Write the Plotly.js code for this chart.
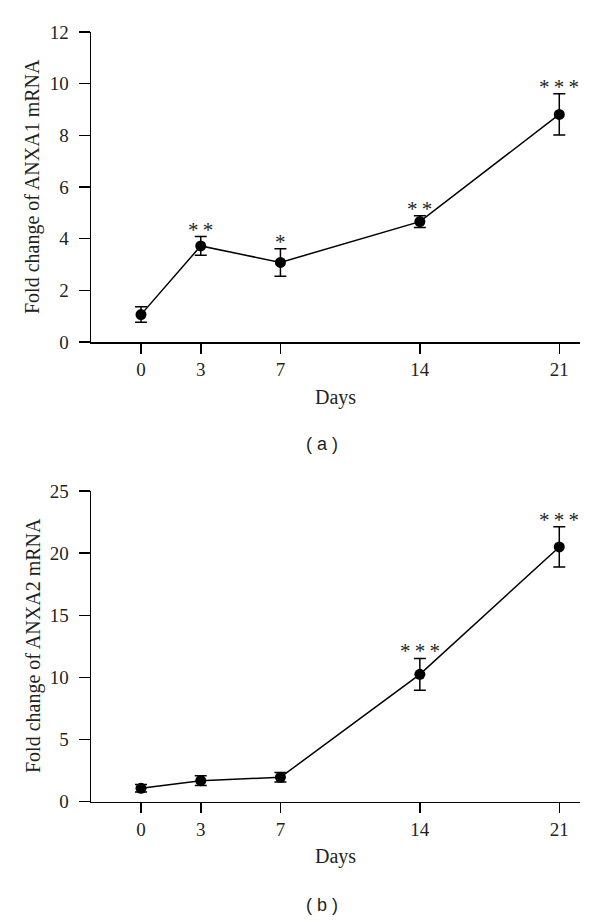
<!DOCTYPE html>
<html>
<head>
<meta charset="utf-8">
<script src="https://cdn.plot.ly/plotly-3.0.1.min.js"></script>
<style>html,body{margin:0;padding:0;background:#fff;}#chart{width:600px;height:922px;}</style>
</head>
<body>
<div id="chart"></div>
<script>
// ---- data ----
var days = [0, 3, 7, 14, 21];
var dayLabels = ["0", "3", "7", "14", "21"];

var anxa1Mean = [1.06, 3.72, 3.08, 4.66, 8.81];
var anxa1Err  = [0.30, 0.36, 0.53, 0.23, 0.80];
var anxa1Sig  = ["", "*\u2009*", "*", "*\u2009*", "*\u2009*\u2009*"];

var anxa2Mean = [1.08, 1.69, 1.96, 10.25, 20.5];
var anxa2Err  = [0.30, 0.39, 0.38, 1.28, 1.62];
var anxa2Sig  = ["", "", "", "*\u2009*\u2009*", "*\u2009*\u2009*"];

var panelTitles = ["Fold change of ANXA1 mRNA", "Fold change of ANXA2 mRNA"];
var panelLabels = ["( a )", "( b )"];
var xTitle = "Days";

// ---- styling ----
var ink = "#231f20";
var serif = "Liberation Serif, Times New Roman, serif";
var sans = "Liberation Sans, Arial, sans-serif";

function trace(mean, err, xa, ya) {
  return {
    x: days, y: mean, xaxis: xa, yaxis: ya,
    type: "scatter", mode: "lines+markers",
    line: {color: "#000", width: 1.5},
    marker: {color: "#000", size: 11},
    error_y: {type: "data", array: err, visible: true, color: "#000", thickness: 1.5, width: 6},
    hoverinfo: "skip", showlegend: false
  };
}

var data = [
  trace(anxa1Mean, anxa1Err, "x", "y"),
  trace(anxa2Mean, anxa2Err, "x2", "y2")
];

function xax(anchor) {
  return {
    anchor: anchor, domain: [91/600, 580/600],
    range: [-2.51, 22.04], tickmode: "array", tickvals: days, ticktext: dayLabels,
    showline: true, linecolor: "#000", linewidth: 1.5,
    ticks: "outside", ticklen: 10, tickwidth: 1.5, tickcolor: "#000",
    showgrid: false, zeroline: false,
    tickfont: {family: serif, size: 19, color: ink},
    title: {text: xTitle, font: {family: serif, size: 20, color: ink}, standoff: 10},
    fixedrange: true
  };
}
function yax(anchor, domain, range, dtick) {
  return {
    anchor: anchor, domain: domain, range: range, dtick: dtick,
    showline: true, linecolor: "#000", linewidth: 1.5,
    ticks: "outside", ticklen: 11, tickwidth: 1.5, tickcolor: "#000",
    ticklabelstandoff: 6,
    showgrid: false, zeroline: false,
    tickfont: {family: serif, size: 19, color: ink},
    fixedrange: true
  };
}

var annotations = [];
function addSig(mean, err, sig, xr, yr) {
  for (var i = 0; i < days.length; i++) {
    if (!sig[i]) continue;
    annotations.push({
      x: days[i], y: mean[i] + err[i], xref: xr, yref: yr,
      text: sig[i], showarrow: false, xanchor: "center", yanchor: "bottom", yshift: -7,
      font: {family: serif, size: 21, color: ink}
    });
  }
}
addSig(anxa1Mean, anxa1Err, anxa1Sig, "x", "y");
addSig(anxa2Mean, anxa2Err, anxa2Sig, "x2", "y2");

// y-axis titles (rotated) and panel labels
annotations.push({xref: "paper", yref: "paper", x: 33/600, y: 1 - 187/922, text: panelTitles[0],
  textangle: -90, xanchor: "center", yanchor: "middle", showarrow: false,
  font: {family: serif, size: 20, color: ink}});
annotations.push({xref: "paper", yref: "paper", x: 33/600, y: 1 - 646/922, text: panelTitles[1],
  textangle: -90, xanchor: "center", yanchor: "middle", showarrow: false,
  font: {family: serif, size: 20, color: ink}});
annotations.push({xref: "paper", yref: "paper", x: 322/600, y: 1 - 444/922, text: panelLabels[0],
  xanchor: "center", yanchor: "middle", showarrow: false,
  font: {family: sans, size: 18, color: ink}});
annotations.push({xref: "paper", yref: "paper", x: 322/600, y: 1 - 905/922, text: panelLabels[1],
  xanchor: "center", yanchor: "middle", showarrow: false,
  font: {family: sans, size: 18, color: ink}});

var layout = {
  width: 600, height: 922,
  margin: {l: 0, r: 0, t: 0, b: 0},
  paper_bgcolor: "#fff", plot_bgcolor: "#fff",
  xaxis: xax("y"),
  yaxis: yax("x", [1 - 342/922, 1 - 32/922], [0, 12], 2),
  xaxis2: xax("y2"),
  yaxis2: yax("x2", [1 - 801.7/922, 1 - 491/922], [0, 25], 5),
  annotations: annotations,
  showlegend: false
};

Plotly.newPlot("chart", data, layout, {staticPlot: true, displayModeBar: false});
</script>
</body>
</html>
